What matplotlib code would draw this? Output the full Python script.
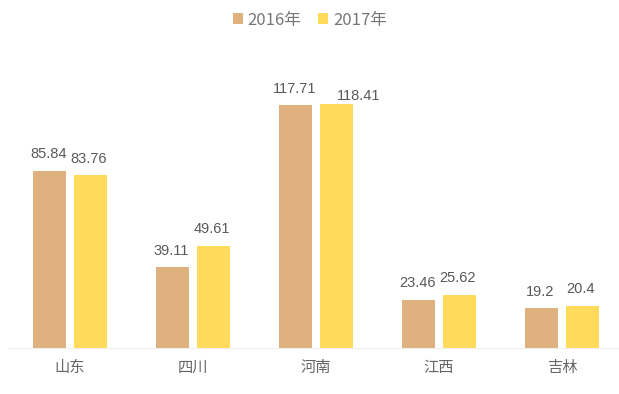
import matplotlib.pyplot as plt
import numpy as np

plt.rcParams['font.family'] = ['Noto Sans CJK SC', 'DejaVu Sans']

provinces = ['山东', '四川', '河南', '江西', '吉林']
v2016 = [85.84, 39.11, 117.71, 23.46, 19.2]
v2017 = [83.76, 49.61, 118.41, 25.62, 20.4]
labels2016 = ['85.84', '39.11', '117.71', '23.46', '19.2']
labels2017 = ['83.76', '49.61', '118.41', '25.62', '20.4']

c2016 = '#DEB17E'
c2017 = '#FFDA5B'
grey = '#595959'

fig = plt.figure(figsize=(6.19, 3.94), dpi=100)
ax = fig.add_axes([8 / 619, 46 / 394, 611 / 619, 308 / 394])

x = np.arange(len(provinces))
w = 0.265
off = 0.165
b1 = ax.bar(x - off, v2016, w, color=c2016, label='2016年')
b2 = ax.bar(x + off, v2017, w, color=c2017, label='2017年')

# the 118.41 label is nudged right in the original to avoid 117.71
nudge = {(1, 2): (17, -6)}
for k, (bars, labs) in enumerate(((b1, labels2016), (b2, labels2017))):
    for i, (rect, t) in enumerate(zip(bars, labs)):
        dx, dy = nudge.get((k, i), (0, 0))
        ax.annotate(t, (rect.get_x() + rect.get_width() / 2, rect.get_height()),
                    xytext=(dx - 1, 7 + dy), textcoords='offset points', ha='center', va='bottom',
                    fontsize=10.5, color=grey, family='Liberation Sans')

ax.set_xlim(-0.504, 4.463)
ax.set_ylim(0, 149.5)
ax.set_yticks([])
ax.set_xticks(x)
ax.set_xticklabels(provinces, fontsize=11, color='#666666')
ax.tick_params(axis='x', length=0, pad=8)
for s in ['top', 'right', 'left']:
    ax.spines[s].set_visible(False)
ax.spines['bottom'].set_color('#EEEEEE')

leg = fig.legend(handles=[b1, b2], loc='center', bbox_to_anchor=(310 / 619, 1 - 20 / 394),
                 ncol=2, frameon=False, fontsize=12, handlelength=0.6, handleheight=0.6,
                 handletextpad=0.3, columnspacing=1.0)
for t in leg.get_texts():
    t.set_color('#777777')

fig.savefig('out.png', dpi=100)
